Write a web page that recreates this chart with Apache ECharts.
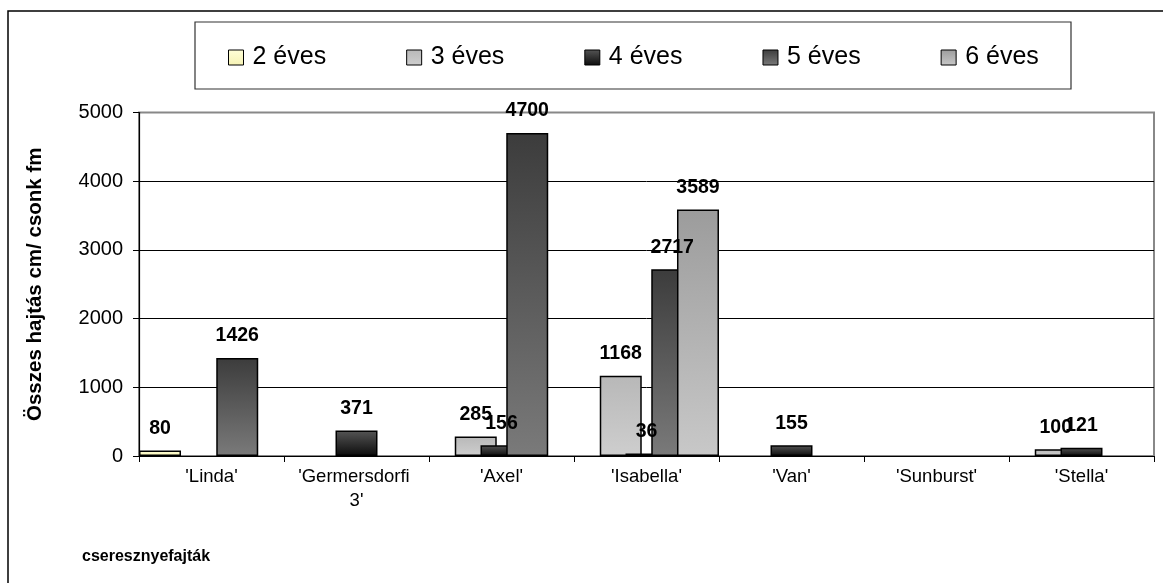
<!DOCTYPE html>
<html>
<head>
    <meta charset="utf-8">
    <title>Összes hajtás</title>
    <script src="https://cdn.jsdelivr.net/npm/echarts@6/dist/echarts.min.js"></script>
    <style>
        html, body { margin: 0; padding: 0; background: #fff; }
        #container { width: 1163px; height: 583px; }
    </style>
</head>
<body>
<div id="container"></div>
<script type="text/javascript">
    // fajták (kategóriák)
    var fajtak = ["'Linda'", "'Germersdorfi 3'", "'Axel'", "'Isabella'", "'Van'", "'Sunburst'", "'Stella'"];
    var sorozatNevek = ['2 éves', '3 éves', '4 éves', '5 éves', '6 éves'];
    // értékek korosztályonként (null = nincs oszlop)
    var eves2 = [80, null, null, null, null, null, null];
    var eves3 = [null, null, 285, 1168, null, null, 100];
    var eves4 = [null, 371, 156, 36, 155, null, 121];
    var eves5 = [1426, null, 4700, 2717, null, null, null];
    var eves6 = [null, null, null, 3589, null, null, null];
    var yTicks = [0, 1000, 2000, 3000, 4000, 5000];

    var font = '"Liberation Sans", Arial, sans-serif';

    function grad(top, bottom) {
        return new echarts.graphic.LinearGradient(0, 0, 0, 1, [
            { offset: 0, color: top },
            { offset: 1, color: bottom }
        ]);
    }
    var szinek = [
        grad('#ffffd8', '#f6f2b4'),
        grad('#b8b8b8', '#cecece'),
        grad('#555555', '#0c0c0c'),
        grad('#3c3c3c', '#7a7a7a'),
        grad('#9c9c9c', '#c8c8c8')
    ];
    var adatok = [eves2, eves3, eves4, eves5, eves6];

    var series = [];
    for (var i = 0; i < adatok.length; i++) {
        series.push({
            name: sorozatNevek[i],
            type: 'bar',
            data: adatok[i],
            barWidth: 42,
            barGap: '-38.7%',
            itemStyle: { color: szinek[i], borderColor: '#000', borderWidth: 1.5 },
            label: {
                show: true,
                position: 'top',
                distance: 12,
                color: '#000',
                fontFamily: font,
                fontWeight: 'bold',
                fontSize: 19.5
            },
            emphasis: { disabled: true }
        });
    }

    var mychart = echarts.init(document.getElementById('container'), null, { renderer: 'canvas' });
    var options = {
        animation: false,
        backgroundColor: '#fff',
        textStyle: { fontFamily: font },
        graphic: [
            // külső keret
            { type: 'rect', shape: { x: 8, y: 11, width: 1170, height: 590 },
              style: { fill: null, stroke: '#000', lineWidth: 1.5 }, silent: true },
            // jelmagyarázat doboz
            { type: 'rect', shape: { x: 195, y: 22, width: 876, height: 67 },
              style: { fill: '#fff', stroke: '#333', lineWidth: 1.2 }, z: -1, silent: true },
            { type: 'text', left: 82, top: 549,
              style: { text: 'cseresznyefajták', font: 'bold 16px ' + font, fill: '#000' } }
        ],
        legend: {
            data: sorozatNevek,
            left: 228,
            top: 45,
            padding: 0,
            itemWidth: 15,
            itemHeight: 15,
            itemGap: 80,
            icon: 'rect',
            itemStyle: { borderColor: '#000', borderWidth: 1 },
            textStyle: { fontSize: 25, color: '#000', fontFamily: font, padding: [0, 0, 0, 4] },
            selectedMode: false
        },
        grid: {
            left: 139, right: 9, top: 112.5, bottom: 127,
            show: true, borderColor: '#888', borderWidth: 2
        },
        xAxis: [{
            type: 'category',
            data: fajtak,
            axisLine: { lineStyle: { color: '#000', width: 1.2 } },
            axisTick: { show: true, length: 6, lineStyle: { color: '#000' } },
            axisLabel: {
                color: '#000', fontSize: 18.5, fontFamily: font, margin: 9,
                interval: 0, width: 120, overflow: 'break', lineHeight: 24
            }
        }],
        yAxis: [{
            type: 'value',
            min: yTicks[0],
            max: yTicks[yTicks.length - 1],
            interval: 1000,
            name: 'Összes hajtás cm/ csonk fm',
            nameLocation: 'middle',
            nameRotate: 90,
            nameGap: 93,
            nameTextStyle: { color: '#000', fontSize: 20.5, fontWeight: 'bold', fontFamily: font },
            axisLine: { show: true, lineStyle: { color: '#000', width: 1.2 } },
            axisTick: { show: true, length: 6, lineStyle: { color: '#000' } },
            axisLabel: { color: '#000', fontSize: 20, fontFamily: font, margin: 16,
                formatter: function (v) { return String(v); } },
            splitLine: { show: true, lineStyle: { color: ['#000', '#000', '#000', '#000', '#000', '#888'], width: 1 } }
        }],
        series: series
    };
    mychart.setOption(options);
</script>
</body>
</html>
